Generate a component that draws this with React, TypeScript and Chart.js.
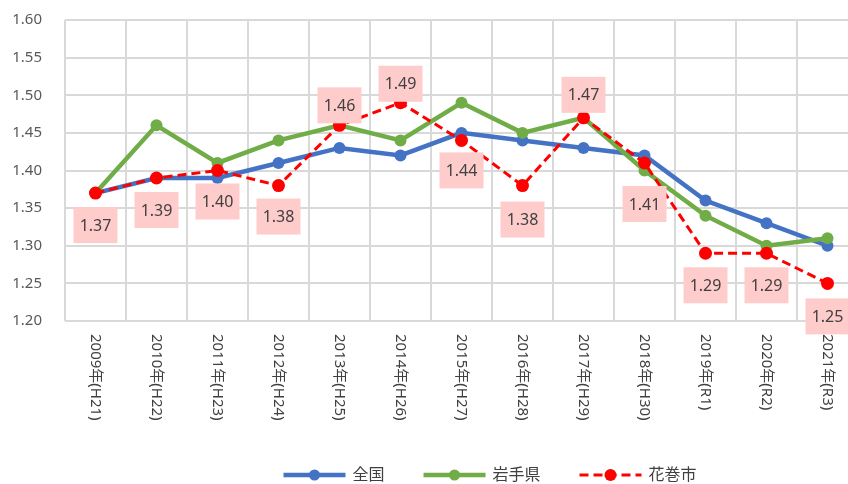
import React, { useEffect, useRef } from "react";
import { Chart, registerables } from "chart.js";

Chart.register(...registerables);

const categories = [
  "2009年(H21)", "2010年(H22)", "2011年(H23)", "2012年(H24)", "2013年(H25)",
  "2014年(H26)", "2015年(H27)", "2016年(H28)", "2017年(H29)", "2018年(H30)",
  "2019年(R1)", "2020年(R2)", "2021年(R3)",
];
const nationalValues = [1.37, 1.39, 1.39, 1.41, 1.43, 1.42, 1.45, 1.44, 1.43, 1.42, 1.36, 1.33, 1.30];
const iwateValues = [1.37, 1.46, 1.41, 1.44, 1.46, 1.44, 1.49, 1.45, 1.47, 1.40, 1.34, 1.30, 1.31];
const hanamakiValues = [1.37, 1.39, 1.40, 1.38, 1.46, 1.49, 1.44, 1.38, 1.47, 1.41, 1.29, 1.29, 1.25];
const seriesNames = ["全国", "岩手県", "花巻市"];
const yMin = 1.2;
const yMax = 1.6;
const yStep = 0.05;

// label placement (style): vertical offset of the data-label box from the point
const labelOffsets = [32, 32, 31, 31, -20, -19, 30, 34, -23, 41, 32, 32, 33];

const FONT = '"Noto Sans", "Noto Sans CJK JP", sans-serif';
const BLUE = "#4472C4";
const GREEN = "#70AD47";
const RED = "#FF0000";

const customPlugin = {
  id: "customDraw",
  afterDraw(chart: any) {
    const ctx = chart.ctx as CanvasRenderingContext2D;
    const xs = chart.scales.x;
    const area = chart.chartArea;

    // x labels rotated (top-to-bottom)
    ctx.save();
    ctx.font = `15px ${FONT}`;
    ctx.fillStyle = "#404040";
    categories.forEach((c, i) => {
      const x = xs.getPixelForValue(i);
      ctx.save();
      ctx.translate(x, area.bottom + 13);
      ctx.rotate(Math.PI / 2);
      ctx.textAlign = "left";
      ctx.textBaseline = "middle";
      ctx.fillText(c, 0, 0);
      ctx.restore();
    });
    ctx.restore();

    // data labels for 花巻市
    const meta = chart.getDatasetMeta(2);
    ctx.save();
    ctx.font = `16px ${FONT}`;
    meta.data.forEach((pt: any, i: number) => {
      const cx = pt.x;
      const cy = pt.y + labelOffsets[i];
      ctx.fillStyle = "#FFCCCC";
      ctx.fillRect(cx - 22, cy - 18, 44, 36);
      ctx.fillStyle = "#404040";
      ctx.textAlign = "center";
      ctx.textBaseline = "middle";
      ctx.fillText(hanamakiValues[i].toFixed(2), cx, cy + 1);
    });
    ctx.restore();

    // legend
    const items = [
      { label: seriesNames[0], color: BLUE, width: 4.5, dash: [] as number[], r: 5.5 },
      { label: seriesNames[1], color: GREEN, width: 4.5, dash: [] as number[], r: 5.5 },
      { label: seriesNames[2], color: RED, width: 3, dash: [9, 5], r: 6 },
    ];
    ctx.save();
    ctx.font = `16px ${FONT}`;
    const lineLen = 62;
    const textGap = 7;
    const itemGap = 39;
    let total = 0;
    const widths = items.map((it) => ctx.measureText(it.label).width);
    items.forEach((it, i) => {
      total += lineLen + textGap + widths[i];
      if (i < items.length - 1) total += itemGap;
    });
    let x = 490 - total / 2;
    const y = 475;
    items.forEach((it, i) => {
      ctx.strokeStyle = it.color;
      ctx.lineWidth = it.width;
      ctx.setLineDash(it.dash);
      ctx.beginPath();
      ctx.moveTo(x, y);
      ctx.lineTo(x + lineLen, y);
      ctx.stroke();
      ctx.setLineDash([]);
      ctx.fillStyle = it.color;
      ctx.beginPath();
      ctx.arc(x + lineLen / 2, y, it.r, 0, Math.PI * 2);
      ctx.fill();
      ctx.fillStyle = "#404040";
      ctx.textAlign = "left";
      ctx.textBaseline = "middle";
      ctx.fillText(it.label, x + lineLen + textGap, y);
      x += lineLen + textGap + widths[i] + itemGap;
    });
    ctx.restore();
  },
};

export default function App() {
  const ref = useRef<HTMLCanvasElement | null>(null);
  useEffect(() => {
    if (!ref.current) return;
    const chart = new Chart(ref.current, {
      type: "line",
      data: {
        labels: categories,
        datasets: [
          {
            label: seriesNames[0],
            data: nationalValues,
            borderColor: BLUE,
            backgroundColor: BLUE,
            borderWidth: 4.5,
            pointRadius: 6,
            pointBorderWidth: 0,
            pointBackgroundColor: BLUE,
            tension: 0,
            order: 3,
          },
          {
            label: seriesNames[1],
            data: iwateValues,
            borderColor: GREEN,
            backgroundColor: GREEN,
            borderWidth: 4.5,
            pointRadius: 6,
            pointBorderWidth: 0,
            pointBackgroundColor: GREEN,
            tension: 0,
            order: 2,
          },
          {
            label: seriesNames[2],
            data: hanamakiValues,
            borderColor: RED,
            backgroundColor: RED,
            borderWidth: 3,
            borderDash: [9, 5],
            pointRadius: 6.5,
            pointBorderWidth: 0,
            pointBackgroundColor: RED,
            tension: 0,
            order: 1,
          },
        ],
      },
      options: {
        responsive: false,
        animation: false,
        devicePixelRatio: 1,
        layout: { padding: { top: 20, right: 22, bottom: 38, left: 0 } },
        plugins: {
          legend: { display: false },
          tooltip: { enabled: false },
        },
        scales: {
          x: {
            type: "category",
            offset: true,
            grid: { offset: true, color: "#D9D9D9", lineWidth: 2, drawTicks: false },
            border: { display: false },
            ticks: { display: false },
            afterFit: (s: any) => {
              s.height = 125;
              s.paddingLeft = 0;
              s.paddingRight = 0;
            },
          },
          y: {
            min: yMin,
            max: yMax,
            grid: { color: "#D9D9D9", lineWidth: 2, drawTicks: false },
            border: { display: false },
            ticks: {
              stepSize: yStep,
              padding: 23,
              color: "#595959",
              font: { size: 15, family: FONT },
              callback: (v: any) => Number(v).toFixed(2),
            },
            afterFit: (s: any) => {
              s.width = 65;
              s.paddingTop = 0;
              s.paddingBottom = 0;
            },
          },
        },
      },
      plugins: [customPlugin],
    });
    return () => chart.destroy();
  }, []);
  return (
    <div style={{ position: "fixed", left: 0, top: 0, width: 848, height: 484, overflow: "hidden", background: "#fff" }}>
      <canvas ref={ref} width={880} height={484} style={{ width: 880, height: 484, display: "block" }} />
    </div>
  );
}
